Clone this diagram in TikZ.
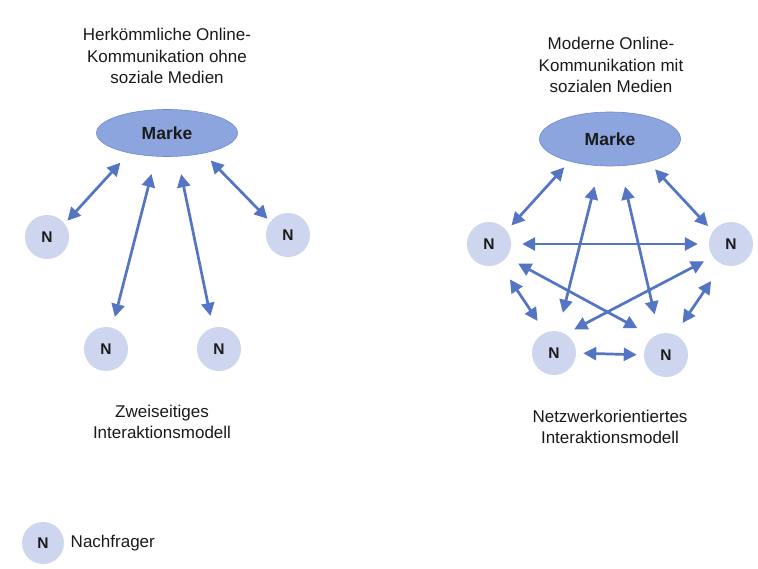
\documentclass[tikz,border=0pt]{standalone}
\usepackage{fontspec}
\setmainfont{Liberation Sans}
\usetikzlibrary{arrows.meta, positioning, shapes.geometric}
\definecolor{markeblue}{HTML}{8CA5DE}
\definecolor{markeedge}{HTML}{7089CC}
\definecolor{kundeblue}{HTML}{CDD6EE}
\definecolor{pfeilblue}{HTML}{5475C4}
\definecolor{textgrey}{HTML}{1A1A1A}

\begin{document}
\begin{tikzpicture}[
    x=1pt, y=-1pt,
    >={Triangle[length=13pt, width=13pt]},
    marke/.style={ellipse, draw=markeedge, fill=markeblue, line width=0.6pt, minimum width=141pt, minimum height=47pt, inner sep=0pt, text=textgrey, font=\fontsize{17.5}{20}\selectfont\bfseries},
    kunde/.style={circle, fill=kundeblue, minimum size=44pt, inner sep=0pt, text=textgrey, font=\fontsize{15.5}{18}\selectfont\bfseries},
    caption/.style={align=center, text=textgrey, font=\fontsize{17}{21.5}\selectfont},
    link/.style={<->, draw=pfeilblue, line width=2.7pt},
]
    \path[use as bounding box, fill=white] (0,0) rectangle (758,568);

    % zweiseitiges Modell
    \node[caption] (tL) at (167,56) {Herkömmliche Online-\\Kommunikation ohne\\soziale Medien};
    \node[marke] (mL) at (167,133) {Marke};
    \node[kunde] (nL1) at (47,237) {N};
    \node[kunde] (nL2) at (288,235) {N};
    \node[kunde] (nL3) at (106,349) {N};
    \node[kunde] (nL4) at (219,349) {N};
    \node[caption] (bL) at (162,422) {Zweiseitiges\\Interaktionsmodell};

    \draw[link, shorten <=13pt, shorten >=4pt] (mL.208) -- (nL1.37);
    \draw[link, shorten <=10pt, shorten >=4pt] (mL.331) -- (nL2.143);
    \draw[link, shorten <=18pt, shorten >=11pt] (mL.245) -- (nL3.74);
    \draw[link, shorten <=18pt, shorten >=12pt] (mL.294) -- (nL4.106);

    % Netzwerkmodell
    \node[caption] (tR) at (611,65) {Moderne Online-\\Kommunikation mit\\sozialen Medien};
    \node[marke, minimum height=54pt] (mR) at (610,139) {Marke};
    \node[kunde] (nR1) at (489,244) {N};
    \node[kunde] (nR2) at (731,244) {N};
    \node[kunde] (nR3) at (554,353) {N};
    \node[kunde] (nR4) at (666,355) {N};
    \node[caption] (bR) at (610,427) {Netzwerkorientiertes\\Interaktionsmodell};

    \draw[link, shorten <=8pt, shorten >=7pt] (mR.209) -- (nR1.37);
    \draw[link, shorten <=10pt, shorten >=7pt] (mR.329) -- (nR2.145);
    \draw[link, shorten <=21pt, shorten >=19pt] (mR.249) -- (nR3.79);
    \draw[link, shorten <=21pt, shorten >=20pt] (mR.291) -- (nR4.108);
    \draw[link, shorten <=11pt, shorten >=11pt] (nR1.east) -- (nR2.west);
    \draw[link, shorten <=13pt, shorten >=18pt] (nR1.323) -- (nR4.125);
    \draw[link, shorten <=10pt, shorten >=10pt] (nR2.215) -- (nR3.59);
    \draw[link, shorten <=19pt, shorten >=14pt] (nR1.298) -- (nR3.113);
    \draw[link, shorten <=20pt, shorten >=14pt] (nR2.247) -- (nR4.67);
    \draw[link, shorten <=7pt, shorten >=7pt] (nR3.east) -- (nR4.west);

    % Legende
    \node[kunde, minimum size=42pt] (lg) at (43,543) {N};
    \node[right=3pt of lg, text=textgrey, font=\fontsize{17}{20}\selectfont] (lgText) {Nachfrager};
\end{tikzpicture}
\end{document}
